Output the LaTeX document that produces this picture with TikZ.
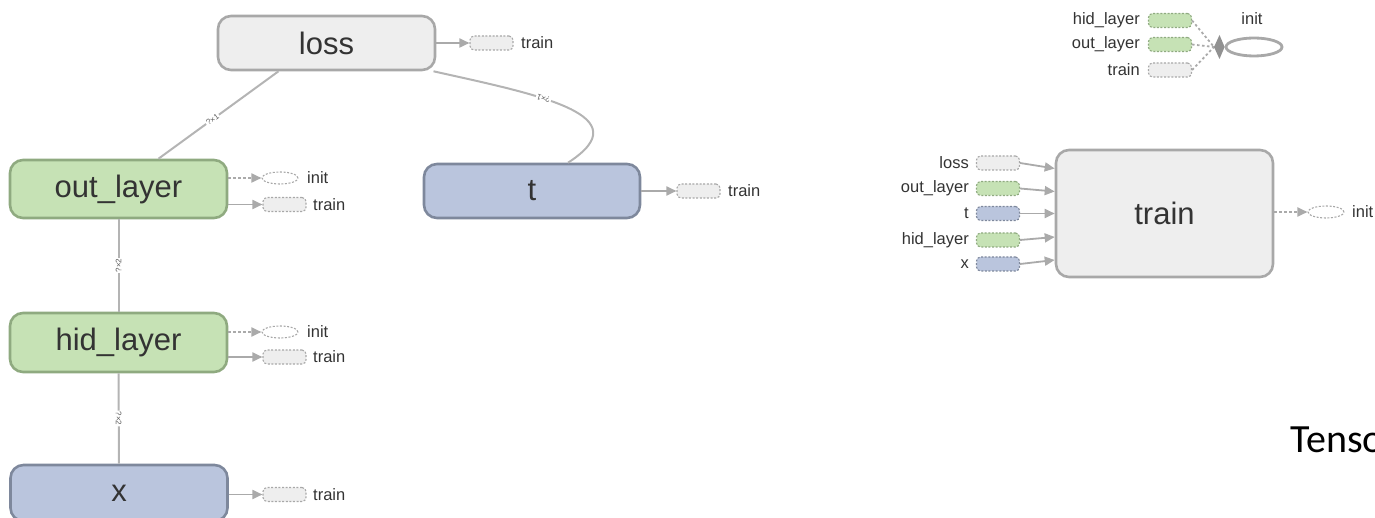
\documentclass[tikz,border=0pt]{standalone}
\usepackage{fontspec}
\setmainfont{Liberation Sans}
\newfontfamily\captionfont{Carlito}
\usetikzlibrary{arrows.meta,shapes.geometric}

\definecolor{graybg}{HTML}{EEEEEE}
\definecolor{grayln}{HTML}{A8A8A8}
\definecolor{greenbg}{HTML}{C6E2B5}
\definecolor{greenln}{HTML}{8FAA80}
\definecolor{bluebg}{HTML}{BAC5DD}
\definecolor{blueln}{HTML}{7E889C}
\definecolor{edgec}{HTML}{B4B4B4}
\definecolor{tipc}{HTML}{AAAAAA}
\definecolor{txt}{HTML}{333333}

\tikzset{
  opnode/.style={draw, rectangle, rounded corners=13pt, line width=2.6pt,
    inner sep=0pt, minimum width=217pt, text=txt,
    font=\fontsize{31}{34}\selectfont},
  grayop/.style={fill=graybg, draw=grayln},
  greenop/.style={fill=greenbg, draw=greenln},
  blueop/.style={fill=bluebg, draw=blueln},
  auxbox/.style={draw, rectangle, rounded corners=4pt, line width=1.1pt,
    dash pattern=on 2pt off 1.6pt, minimum width=43pt, minimum height=14pt,
    inner sep=0pt},
  auxgray/.style={auxbox, fill=graybg, draw=grayln},
  auxgreen/.style={auxbox, fill=greenbg, draw=greenln},
  auxblue/.style={auxbox, fill=bluebg, draw=blueln},
  auxinit/.style={draw=grayln, ellipse, fill=white, line width=1.1pt,
    dash pattern=on 2pt off 1.6pt, minimum width=36pt, minimum height=12pt,
    inner sep=0pt},
  auxlabel/.style={text=txt, inner sep=0pt, font=\fontsize{16.5}{17}\selectfont},
  dataedge/.style={draw=edgec, line width=2pt},
  shapelbl/.style={sloped, text=txt!80, inner sep=1pt,
    font=\fontsize{8}{8}\selectfont},
  reftip/.style={-{Triangle[length=10pt,width=9pt,fill=tipc]}},
  refedge/.style={draw=tipc, line width=1.8pt, reftip},
  ctrledge/.style={draw=tipc, line width=1.8pt, dash pattern=on 2.5pt off 2.5pt, reftip},
}

\begin{document}
\begin{tikzpicture}[x=1pt, y=-1pt]
\useasboundingbox (0,0) rectangle (1375,518);
\clip (0,0) rectangle (1375,518);

% ---------- main graph ----------
\node[opnode, grayop,  minimum height=54pt] (loss) at (326.5,43)  {loss};
\node[opnode, greenop, minimum height=58pt] (out)  at (118.5,189) {out\_layer};
\node[opnode, greenop, minimum height=59pt] (hid)  at (118.5,342.5) {hid\_layer};
\node[opnode, blueop,  minimum height=56pt] (x)    at (119,493)   {x};
\node[opnode, blueop,  minimum width=216pt, minimum height=54pt] (t) at (532,191) {t};

% data edges with tensor shapes
\draw[dataedge] ([xshift=40pt]out.north) -- ([xshift=-48pt]loss.south)
  node[shapelbl, pos=.45, fill=white] {?×1};
\draw[dataedge] (hid.north) -- (out.south)
  node[shapelbl, midway, fill=white] {?×2};
\draw[dataedge] (x.north) -- (hid.south)
  node[shapelbl, midway, fill=white] {?×2};
\draw[dataedge] ([xshift=36pt]t.north)
  .. controls (642,115) and (540,95) .. ([xshift=107pt]loss.south)
  node[shapelbl, pos=.62, allow upside down, fill=white] {?×1};

% auxiliary references
\node[auxgray] (lossTr) at (491.5,43) {};
\node[auxlabel, anchor=west] (lossTrL) at (521,43) {train};
\draw[refedge] (loss.east |- lossTr) -- (lossTr.west);

\node[auxinit] (outIn) at (280,178) {};
\node[auxlabel, anchor=west] (outInL) at (307,178) {init};
\draw[ctrledge] (out.east |- outIn) -- (outIn.west);
\node[auxgray] (outTr) at (284.5,204.5) {};
\node[auxlabel, anchor=west] (outTrL) at (313,204.5) {train};
\draw[refedge] (out.east |- outTr) -- (outTr.west);

\node[auxinit] (hidIn) at (280,332) {};
\node[auxlabel, anchor=west] (hidInL) at (307,332) {init};
\draw[ctrledge] (hid.east |- hidIn) -- (hidIn.west);
\node[auxgray] (hidTr) at (284.5,357) {};
\node[auxlabel, anchor=west] (hidTrL) at (313,357) {train};
\draw[refedge] (hid.east |- hidTr) -- (hidTr.west);

\node[auxgray] (xTr) at (284.5,494.5) {};
\node[auxlabel, anchor=west] (xTrL) at (313,494.5) {train};
\draw[refedge] (x.east |- xTr) -- (xTr.west);

\node[auxgray] (tTr) at (698.5,191) {};
\node[auxlabel, anchor=west] (tTrL) at (728,191) {train};
\draw[refedge] (t.east |- tTr) -- (tTr.west);

% ---------- init node ----------
\node[draw=grayln, ellipse, line width=2.8pt, fill=white, inner sep=0pt,
  minimum width=56pt, minimum height=18pt] (init) at (1254,47) {};
\node[auxlabel, anchor=base] (initL) at (1252,25) {init};
\node[auxgreen] (iHid) at (1170,20.5) {};
\node[auxgreen] (iOut) at (1170,44.5) {};
\node[auxgray]  (iTr)  at (1170,70) {};
\node[auxlabel, anchor=east] (iHidL) at (1140,20.5) {hid\_layer};
\node[auxlabel, anchor=east] (iOutL) at (1140,44.5) {out\_layer};
\node[auxlabel, anchor=east] (iTrL)  at (1140,70) {train};
\coordinate (merge) at (1214,47);
\foreach \s in {iHid,iOut,iTr}
  \draw[draw=tipc, line width=1.8pt, dash pattern=on 2.5pt off 2.5pt] (\s.east) -- (merge);
\fill[tipc!85!black] (merge) -- (1219.5,35) -- (init.west) -- (1219.5,59) -- cycle;

% ---------- train node ----------
\node[opnode, grayop, minimum height=127pt] (train) at (1164.5,213.5) {train};
\node[auxgray] (tLoss) at (998,163) {};
\node[auxgreen] (tOut) at (998,188.5) {};
\node[auxblue] (tT) at (998,213.5) {};
\node[auxgreen] (tHid) at (998,240) {};
\node[auxblue] (tX) at (998,264) {};
\node[auxlabel, anchor=east] (tLossL) at (969,163) {loss};
\node[auxlabel, anchor=east] (tOutL) at (969,188.5) {out\_layer};
\node[auxlabel, anchor=east] (tTL) at (969,213.5) {t};
\node[auxlabel, anchor=east] (tHidL) at (969,240) {hid\_layer};
\node[auxlabel, anchor=east] (tXL) at (969,264) {x};
\draw[refedge] (tLoss.east) -- ([yshift=45pt]train.west);
\draw[refedge] (tOut.east) -- ([yshift=22pt]train.west);
\draw[refedge] (tT.east) -- (train.west);
\draw[refedge] (tHid.east) -- ([yshift=-23.5pt]train.west);
\draw[refedge] (tX.east) -- ([yshift=-46.5pt]train.west);

\node[auxinit] (trIn) at (1326,212) {};
\node[auxlabel, anchor=west] (trInL) at (1352,212) {init};
\draw[ctrledge] (train.east |- trIn) -- (trIn.west);

% ---------- caption ----------
\node[anchor=base west, inner sep=0pt, font=\captionfont\fontsize{40}{40}\selectfont]
  (caption) at (1290,452) {TensorBoard};
\end{tikzpicture}
\end{document}
